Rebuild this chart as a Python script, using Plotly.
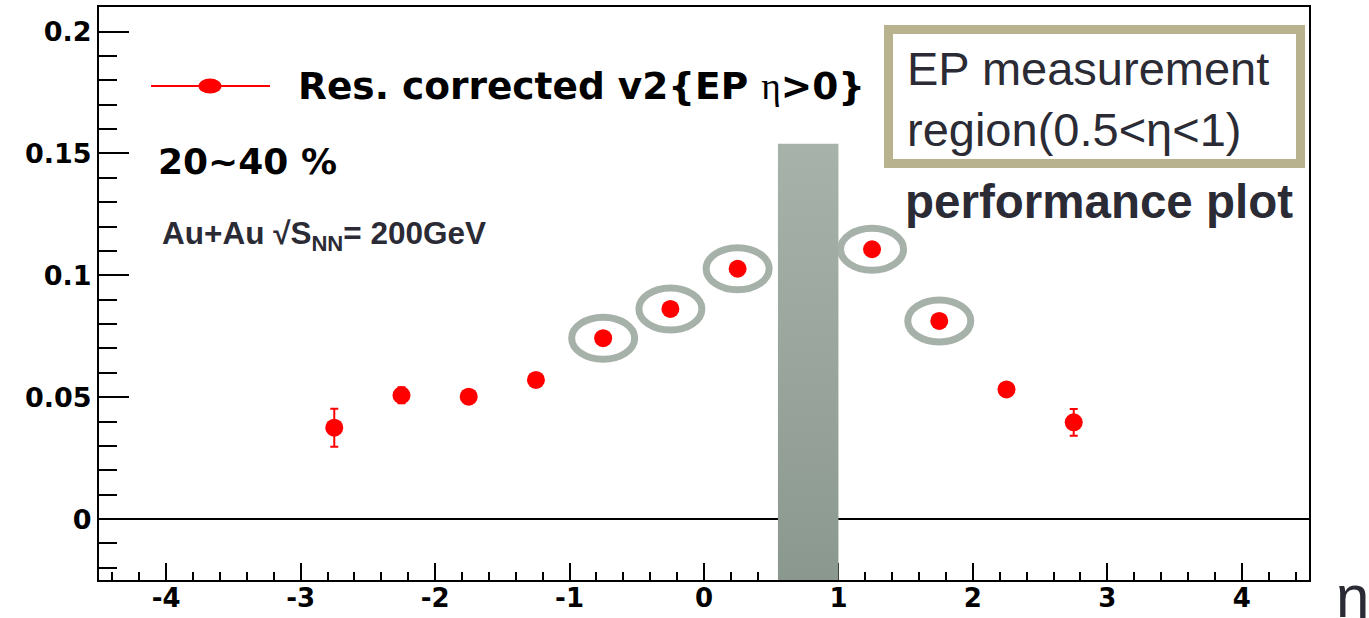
import plotly.graph_objects as go

# ---------------- data ----------------
eta = [-2.75, -2.25, -1.75, -1.25, -0.75, -0.25, 0.25, 1.25, 1.75, 2.25, 2.75]
v2 = [0.0375, 0.0508, 0.0502, 0.0571, 0.0742, 0.0862, 0.1027, 0.1107, 0.0813, 0.0532, 0.0397]
v2_err = [0.0078, 0.0033, 0.0012, 0.0010, 0.0010, 0.0010, 0.0010, 0.0010, 0.0010, 0.0012, 0.0055]
ringed_eta = [-0.75, -0.25, 0.25, 1.25, 1.75]

ep_region = [0.55, 1.0]      # shaded EP measurement band
ep_band_top = 0.154

x_tickvals = [-4, -3, -2, -1, 0, 1, 2, 3, 4]
x_ticktext = ["-4", "-3", "-2", "-1", "0", "1", "2", "3", "4"]
y_tickvals = [0, 0.05, 0.1, 0.15, 0.2]
y_ticktext = ["0", "0.05", "0.1", "0.15", "0.2"]

# ---------------- geometry ----------------
W, H = 1369, 618
L, R, T, B = 99, 1309, 7, 580
Y0, Y1 = -0.0250, 0.2101


def px(x):
    return (x - L) / (R - L)


def py(y):
    return (B - y) / (B - T)


DARK = "#2b2b35"
RED = "#ff0000"
RING = "#a6b1a9"

fig = go.Figure()

# EP band (gradient fill)
fig.add_trace(go.Scatter(
    x=[ep_region[0], ep_region[1], ep_region[1], ep_region[0], ep_region[0]],
    y=[Y0, Y0, ep_band_top, ep_band_top, Y0],
    mode="lines", fill="toself", line=dict(width=0),
    fillgradient=dict(type="vertical",
                      colorscale=[[0, "#8b988f"], [1, "#a7b2ab"]]),
    hoverinfo="skip", showlegend=False))

# data
fig.add_trace(go.Scatter(
    x=eta, y=v2, mode="markers",
    marker=dict(color=RED, size=18, symbol="circle", line=dict(width=0)),
    error_y=dict(type="data", array=v2_err, color=RED, thickness=2, width=4),
    showlegend=False))

shapes = []
# rings around highlighted points
for xe, yv in zip(eta, v2):
    if xe in ringed_eta:
        shapes.append(dict(type="circle", xref="x", yref="y",
                           xsizemode="pixel", ysizemode="pixel",
                           xanchor=xe, yanchor=yv,
                           x0=-31.5, x1=31.5, y0=-21, y1=21,
                           line=dict(color=RING, width=7), layer="below"))

# legend line and marker
shapes.append(dict(type="line", xref="paper", yref="paper",
                   x0=px(151), x1=px(270), y0=py(86), y1=py(86),
                   line=dict(color=RED, width=2), layer="above"))
shapes.append(dict(type="circle", xref="paper", yref="paper",
                   xsizemode="pixel", ysizemode="pixel",
                   xanchor=px(210), yanchor=py(86),
                   x0=-11.5, x1=11.5, y0=-7.5, y1=7.5,
                   fillcolor=RED, line=dict(width=0), layer="above"))

# EP measurement box
shapes.append(dict(type="rect", xref="paper", yref="paper",
                   x0=px(888.5), x1=px(1300.5), y0=py(163.5), y1=py(29.5),
                   line=dict(color="#b9b28f", width=9), fillcolor="white",
                   layer="above"))

annotations = [
    dict(text="Res. corrected v2{EP <span style=\"font-family:serif;font-weight:normal\">η</span>&gt;0}",
         x=px(296), y=py(86), xanchor="left", yanchor="middle",
         font=dict(family="DejaVu Sans", size=37.5, color="black", weight="bold")),
    dict(text="20~40 %", x=px(156), y=py(162), xanchor="left", yanchor="middle",
         font=dict(family="DejaVu Sans", size=36, color="black", weight="bold")),
    dict(text="Au+Au √S<sub>NN</sub>= 200GeV", x=px(160), y=py(236), xanchor="left", yanchor="middle",
         font=dict(family="Liberation Sans", size=31.5, color=DARK, weight="bold")),
    dict(text="EP measurement<br>region(0.5&lt;η&lt;1)", x=px(905), y=py(99), xanchor="left", yanchor="middle",
         align="left",
         font=dict(family="Liberation Sans", size=47, color=DARK)),
    dict(text="performance plot", x=px(903), y=py(202), xanchor="left", yanchor="middle",
         font=dict(family="Liberation Sans", size=47.5, color=DARK, weight="bold")),
    dict(text="η", x=px(1334), y=py(596), xanchor="left", yanchor="middle",
         font=dict(family="Liberation Sans", size=60, color=DARK)),
]
for a in annotations:
    a.update(xref="paper", yref="paper", showarrow=False)

fig.update_layout(
    width=W, height=H,
    margin=dict(l=L, r=W - R, t=T, b=H - B, pad=0, autoexpand=False),
    paper_bgcolor="white", plot_bgcolor="white",
    showlegend=False,
    shapes=shapes, annotations=annotations,
    xaxis=dict(range=[-4.5, 4.5], tickvals=x_tickvals, ticktext=x_ticktext,
               automargin=False, ticklabelstandoff=-6,
               ticks="inside", ticklen=17, tickwidth=2, tickcolor="black",
               minor=dict(dtick=0.2, tick0=0, ticks="inside", ticklen=8,
                          tickwidth=2, tickcolor="black"),
               showline=True, linecolor="black", linewidth=2, mirror=True,
               showgrid=False, zeroline=False, layer="below traces",
               tickfont=dict(family="DejaVu Sans", size=26, color="black", weight="bold")),
    yaxis=dict(range=[Y0, Y1], tickvals=y_tickvals, ticktext=y_ticktext,
               automargin=False,
               ticks="inside", ticklen=30, tickwidth=2, tickcolor="black",
               minor=dict(dtick=0.01, tick0=0, ticks="inside", ticklen=18,
                          tickwidth=2, tickcolor="black"),
               showline=True, linecolor="black", linewidth=2, mirror=True,
               showgrid=False, zeroline=True, zerolinecolor="black", zerolinewidth=1.5,
               layer="below traces",
               tickfont=dict(family="DejaVu Sans", size=27, color="black", weight="bold")),
)

fig.write_html("out.html", config={"displayModeBar": False},
               post_script="document.body.style.margin='0';")
